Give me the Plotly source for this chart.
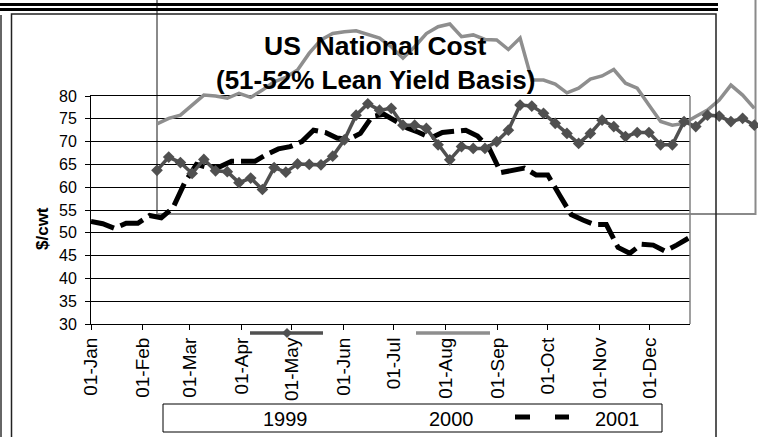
import plotly.graph_objects as go
import pandas as pd

# ---------------- data ----------------
week_dates = pd.date_range("2001-01-01", periods=52, freq="7D")

cost_1999 = [63.7, 66.6, 65.4, 63.0, 66.1, 63.6, 63.4, 61.0, 62.0, 59.5,
             64.3, 63.3, 65.1, 65.0, 64.9, 66.8, 70.4, 75.8, 78.3, 76.9,
             77.3, 73.6, 73.6, 72.9, 69.3, 66.0, 68.9, 68.5, 68.5, 70.0,
             72.5, 78.0, 77.8, 76.2, 74.0, 71.8, 69.6, 71.8, 74.7, 73.3,
             71.1, 72.0, 72.0, 69.3, 69.3, 74.4, 73.3, 75.8, 75.6, 74.4,
             75.1, 73.6]
cost_2000 = [73.9, 75.1, 75.8, 78.0, 80.2, 80.0, 79.5, 80.6, 79.7, 81.3,
             83.1, 84.1, 85.7, 89.4, 92.3, 93.7, 94.1, 94.3, 93.4, 92.7,
             90.8, 88.3, 90.8, 93.7, 95.2, 95.8, 93.0, 93.4, 92.4, 92.3,
             90.2, 92.7, 83.5, 83.5, 82.6, 80.7, 81.7, 83.7, 84.4, 85.8,
             82.8, 81.7, 78.0, 74.4, 73.6, 74.0, 75.5, 76.9, 79.1, 82.4,
             80.2, 77.3]
cost_2001 = [52.5, 52.0, 51.0, 52.1, 52.1, 53.8, 53.3, 55.5, 61.0, 65.0,
             64.3, 64.5, 65.7, 65.8, 65.7, 67.2, 68.4, 68.9, 70.0, 72.5,
             72.0, 70.8, 70.5, 71.8, 75.5, 76.0, 74.5, 73.0, 72.0, 70.8,
             72.0, 72.2, 72.5, 71.2, 68.5, 63.2, 63.8, 64.2, 62.7, 62.7,
             58.3, 54.0, 52.8, 51.8, 51.8, 46.8, 45.5, 47.5, 47.3, 46.0,
             47.3, 48.8]

series_names = ["1999", "2000", "2001"]
title_line1 = "US  National Cost"
title_line2 = "(51-52% Lean Yield Basis)"
y_title = "$/cwt"

# ---------------- geometry ----------------
W, H = 758, 437
PL, PR, PT, PB = 91, 690, 96, 324          # main plot area (pixels)
SHIFT_X = 157                              # left edge of the displaced frame
X_START = pd.Timestamp("2001-01-01")
X_END = pd.Timestamp("2001-12-25")
YMIN, YMAX = 30, 80

def px(x):
    return x / W

def py(y):
    return 1 - y / H

ppd = (PR - PL) / (X_END - X_START).days   # pixels per day
ppu = (PB - PT) / (YMAX - YMIN)            # pixels per unit
x2_range = [(X_START - pd.Timedelta(days=SHIFT_X / ppd)).isoformat(),
            (X_START + pd.Timedelta(days=(W - SHIFT_X) / ppd)).isoformat()]
y2_range = [YMIN - (H - PB) / ppu, YMAX + PT / ppu]

FONT = "Arial, Liberation Sans, sans-serif"
DARK = "#505050"
LIGHT = "#8e8e8e"

fig = go.Figure()

fig.add_trace(go.Scatter(
    x=week_dates, y=cost_2001, name=series_names[2], mode="lines",
    line=dict(color="black", width=5, dash="24px,7px"),
    xaxis="x", yaxis="y", showlegend=False))

fig.add_trace(go.Scatter(
    x=week_dates, y=cost_2000, name=series_names[1], mode="lines",
    line=dict(color=LIGHT, width=3.5),
    xaxis="x2", yaxis="y2", showlegend=False))

fig.add_trace(go.Scatter(
    x=week_dates, y=cost_1999, name=series_names[0], mode="lines+markers",
    line=dict(color=DARK, width=3.5),
    marker=dict(symbol="diamond", size=9, color=DARK),
    xaxis="x2", yaxis="y2", showlegend=False))

shapes = []
# page decoration: double black bars at the top
shapes.append(dict(type="line", xref="paper", yref="paper", x0=px(0), x1=px(718),
                   y0=py(4.5), y1=py(4.5), line=dict(color="black", width=3)))
shapes.append(dict(type="line", xref="paper", yref="paper", x0=px(0), x1=px(718),
                   y0=py(9.5), y1=py(9.5), line=dict(color="black", width=3)))
# left outer line
shapes.append(dict(type="line", xref="paper", yref="paper", x0=px(1), x1=px(1),
                   y0=py(15), y1=py(H + 5), line=dict(color="#333333", width=1.5)))
# chart-area box
shapes.append(dict(type="rect", xref="paper", yref="paper", x0=px(11.5), x1=px(716),
                   y0=py(H + 10), y1=py(14), line=dict(color="#222222", width=1.5)))
# displaced frame of 1999/2000 plot area
shapes.append(dict(type="rect", xref="paper", yref="paper", x0=px(SHIFT_X), x1=px(755.5),
                   y0=py(214), y1=py(-30), line=dict(color="#8a8a8a", width=2),
                   layer="below"))
# main plot area right border
shapes.append(dict(type="line", xref="paper", yref="paper", x0=px(PR), x1=px(PR),
                   y0=py(PB), y1=py(PT), line=dict(color="#808080", width=1.5)))
# legend box
shapes.append(dict(type="rect", xref="paper", yref="paper", x0=px(163), x1=px(662),
                   y0=py(432), y1=py(404), line=dict(color="black", width=1),
                   fillcolor="white"))
# legend symbols (displaced as in the original)
shapes.append(dict(type="line", xref="paper", yref="paper", x0=px(250), x1=px(323),
                   y0=py(333), y1=py(333), line=dict(color=DARK, width=3.5)))
d = 5
shapes.append(dict(type="path", xref="paper", yref="paper",
                   path=f"M {px(287)},{py(333-d)} L {px(287+d)},{py(333)} "
                        f"L {px(287)},{py(333+d)} L {px(287-d)},{py(333)} Z",
                   fillcolor=DARK, line=dict(color=DARK, width=0)))
shapes.append(dict(type="line", xref="paper", yref="paper", x0=px(416), x1=px(490),
                   y0=py(333), y1=py(333), line=dict(color=LIGHT, width=3.5)))
shapes.append(dict(type="line", xref="paper", yref="paper", x0=px(515), x1=px(569),
                   y0=py(417), y1=py(417),
                   line=dict(color="black", width=5, dash="15px,25px")))

annotations = [
    dict(text=f"<b>{title_line1}</b>", xref="paper", yref="paper", x=px(375.5), y=py(45.5),
         xanchor="center", yanchor="middle", showarrow=False,
         font=dict(family=FONT, size=26.5, color="black")),
    dict(text=f"<b>{title_line2}</b>", xref="paper", yref="paper", x=px(375.5), y=py(79.5),
         xanchor="center", yanchor="middle", showarrow=False,
         font=dict(family=FONT, size=26, color="black")),
    dict(text=f"<b>{y_title}</b>", xref="paper", yref="paper", x=px(42.5), y=py(228.5),
         xanchor="center", yanchor="middle", textangle=-90, showarrow=False,
         font=dict(family=FONT, size=17, color="black")),
    dict(text=series_names[0], xref="paper", yref="paper", x=px(285), y=py(419),
         xanchor="center", yanchor="middle", showarrow=False,
         font=dict(family=FONT, size=20, color="black")),
    dict(text=series_names[1], xref="paper", yref="paper", x=px(451), y=py(419),
         xanchor="center", yanchor="middle", showarrow=False,
         font=dict(family=FONT, size=20, color="black")),
    dict(text=series_names[2], xref="paper", yref="paper", x=px(617), y=py(419),
         xanchor="center", yanchor="middle", showarrow=False,
         font=dict(family=FONT, size=20, color="black")),
]

fig.update_layout(
    template="none",
    width=W, height=H, autosize=False,
    margin=dict(l=0, r=0, t=0, b=0, pad=0, autoexpand=False),
    paper_bgcolor="white", plot_bgcolor="rgba(0,0,0,0)",
    showlegend=False, hovermode=False,
    font=dict(family=FONT, color="black"),
    xaxis=dict(domain=[px(PL), px(PR)], type="date", automargin=False,
               range=[X_START.isoformat(), X_END.isoformat()],
               tick0="2001-01-01", dtick="M1", tickformat="%d-%b",
               tickangle=-90, ticks="outside", ticklen=5, tickcolor="black",
               tickfont=dict(family=FONT, size=19, color="black"),
               showline=True, linecolor="black", linewidth=1, mirror=True,
               showgrid=False, zeroline=False, anchor="y"),
    yaxis=dict(domain=[py(PB), py(PT)], range=[YMIN, YMAX], dtick=5, automargin=False,
               ticks="outside", ticklen=5, tickcolor="black",
               tickfont=dict(family=FONT, size=16, color="black"),
               ticklabelstandoff=5,
               showline=True, linecolor="black", linewidth=1,
               showgrid=True, gridcolor="black", gridwidth=1,
               zeroline=False, anchor="x"),
    xaxis2=dict(domain=[0, 1], type="date", range=x2_range, visible=False,
                automargin=False, anchor="y2", showgrid=False, zeroline=False),
    yaxis2=dict(domain=[0, 1], range=y2_range, visible=False,
                automargin=False, anchor="x2", showgrid=False, zeroline=False),
    shapes=shapes,
    annotations=annotations,
)

fig.write_html(
    "out.html",
    config={"displayModeBar": False, "staticPlot": True},
    post_script="document.body.style.margin='0';document.body.style.overflow='hidden';",
)
